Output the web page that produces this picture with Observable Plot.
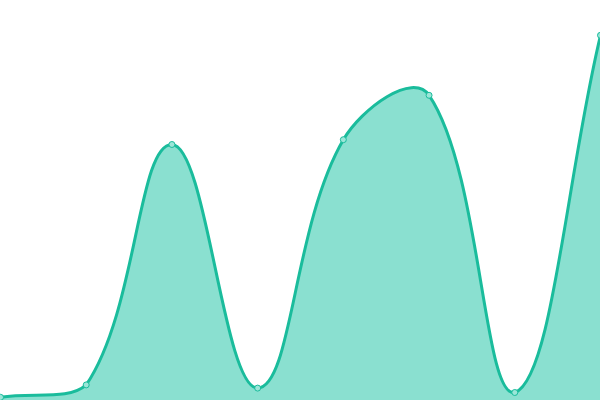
<!DOCTYPE html>
<html>
<head>
<meta charset="utf-8">
<script src="https://cdn.jsdelivr.net/npm/d3@7"></script>
<script src="https://cdn.jsdelivr.net/npm/@observablehq/plot@0.6"></script>
<style>
  html, body { margin: 0; padding: 0; background: #fff; }
  #chart svg { display: block; overflow: hidden; }
</style>
</head>
<body>
<div id="chart"></div>
<script>
const xIndex = [0, 1, 2, 3, 4, 5, 6, 7];
const values = [0.8, 3.9, 64, 3.1, 65.2, 76.3, 2, 91.3];

const data = xIndex.map((x, i) => ({x, y: values[i]}));

const W = 600, H = 400;

// Spline curve with distance-weighted control points (tension 0.4), control points capped to the plot area
function tensionSpline(context) {
  const t = 0.4;
  let line = NaN, pts = [];
  const clampX = v => Math.max(0, Math.min(W, v));
  const clampY = v => Math.max(0, Math.min(H, v));
  return {
    areaStart() { line = 0; },
    areaEnd() { line = NaN; },
    lineStart() { pts = []; },
    point(x, y) { pts.push([+x, +y]); },
    lineEnd() {
      const n = pts.length;
      if (n) {
        if (line) context.lineTo(pts[0][0], pts[0][1]);
        else context.moveTo(pts[0][0], pts[0][1]);
        const cps = pts.map((cur, i) => {
          const prev = pts[Math.max(i - 1, 0)];
          const next = pts[Math.min(i + 1, n - 1)];
          const d01 = Math.hypot(cur[0] - prev[0], cur[1] - prev[1]);
          const d12 = Math.hypot(next[0] - cur[0], next[1] - cur[1]);
          let s01 = d01 / (d01 + d12), s12 = d12 / (d01 + d12);
          if (!isFinite(s01)) s01 = 0;
          if (!isFinite(s12)) s12 = 0;
          const fa = t * s01, fb = t * s12;
          const dx = next[0] - prev[0], dy = next[1] - prev[1];
          return {
            px: clampX(cur[0] - fa * dx), py: clampY(cur[1] - fa * dy),
            nx: clampX(cur[0] + fb * dx), ny: clampY(cur[1] + fb * dy)
          };
        });
        for (let i = 1; i < n; i++) {
          const a = cps[i - 1], b = cps[i];
          context.bezierCurveTo(a.nx, a.ny, b.px, b.py, pts[i][0], pts[i][1]);
        }
      }
      if (line || (line !== 0 && n === 1)) context.closePath();
      line = 1 - line;
    }
  };
}

const chart = Plot.plot({
  width: W,
  height: H,
  margin: 0,
  x: {domain: [0, 7], axis: null},
  y: {domain: [0, 100], axis: null},
  marks: [
    Plot.areaY(data, {x: "x", y: "y", curve: tensionSpline, fill: "#8ae0d0"}),
    Plot.lineY(data, {x: "x", y: "y", curve: tensionSpline, stroke: "#1abc9c", strokeWidth: 3}),
    Plot.dot(data, {x: "x", y: "y", r: 3, fill: "#9be6d8", stroke: "#1abc9c", strokeWidth: 1})
  ]
});
document.getElementById("chart").appendChild(chart);
</script>
</body>
</html>
